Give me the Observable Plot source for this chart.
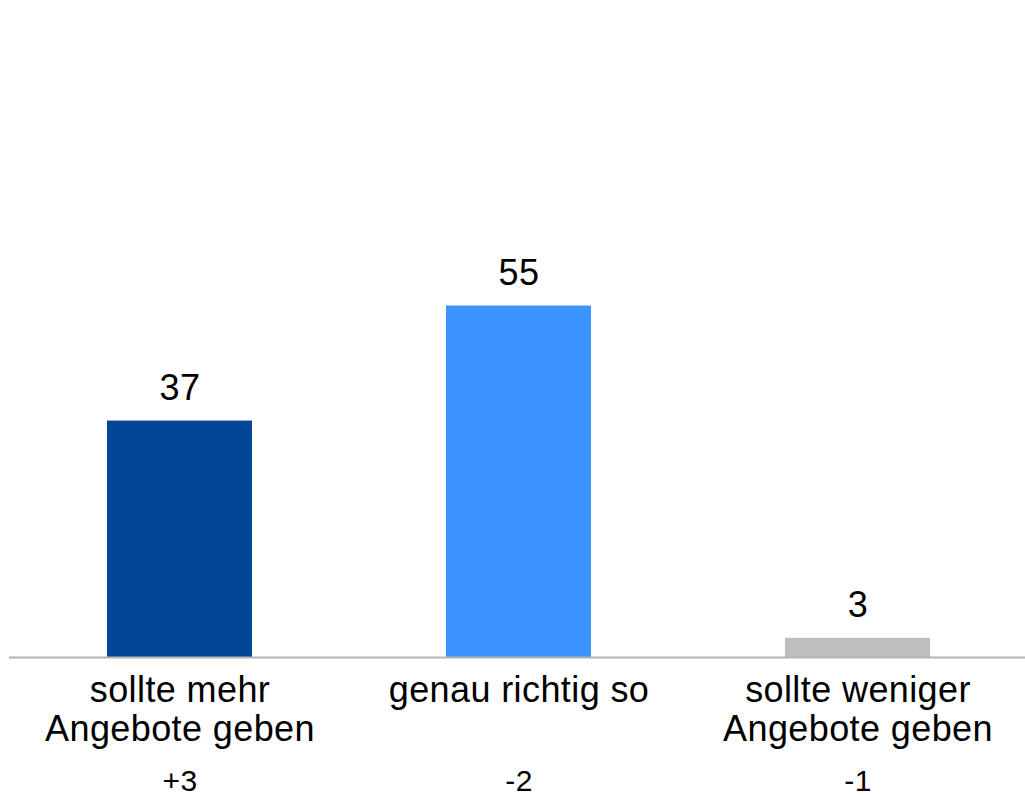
<!DOCTYPE html>
<html>
<head>
<meta charset="utf-8">
<script src="https://cdn.jsdelivr.net/npm/d3@7"></script>
<script src="https://cdn.jsdelivr.net/npm/@observablehq/plot@0.6"></script>
<style>
  html, body { margin: 0; padding: 0; background: #fff; }
  #chart { width: 1025px; height: 796px; }
  svg { font-family: "Liberation Sans", Arial, sans-serif; }
  svg text { letter-spacing: 0.4px; }
</style>
</head>
<body>
<div id="chart"></div>
<script>
const categories = ["sollte mehr\nAngebote geben", "genau richtig so", "sollte weniger\nAngebote geben"];
const values = [37, 55, 3];
const changes = ["+3", "-2", "-1"];
const colors = ["#034597", "#3d93fe", "#bebebe"];

const data = categories.map((c, i) => ({cat: c, value: values[i], change: changes[i], color: colors[i]}));

const chart = Plot.plot({
  width: 1025,
  height: 796,
  marginTop: 18,
  marginBottom: 139,
  marginLeft: 9,
  marginRight: 0,
  style: {fontFamily: "'Liberation Sans', Arial, sans-serif", color: "#000", background: "#fff"},
  x: {type: "band", domain: categories, range: [106, 930], paddingInner: 0.573, paddingOuter: 0, axis: null},
  y: {domain: [0, 100], axis: null},
  marks: [
    Plot.barY(data, {x: "cat", y: "value", fill: "color"}),
    Plot.ruleY([0], {stroke: "#b3b3b3", strokeWidth: 2}),
    Plot.text(data, {x: "cat", y: "value", text: d => String(d.value), lineAnchor: "bottom", dy: -21.5, fontSize: 36, fill: "#000"}),
    Plot.text(data, {x: "cat", text: "cat", frameAnchor: "bottom", lineAnchor: "top", dy: 17, lineHeight: 1.08, fontSize: 36, fill: "#000"}),
    Plot.text(data, {x: "cat", text: "change", frameAnchor: "bottom", lineAnchor: "bottom", dy: 133, fontSize: 30, fill: "#000"})
  ]
});
document.getElementById("chart").appendChild(chart);
</script>
</body>
</html>
